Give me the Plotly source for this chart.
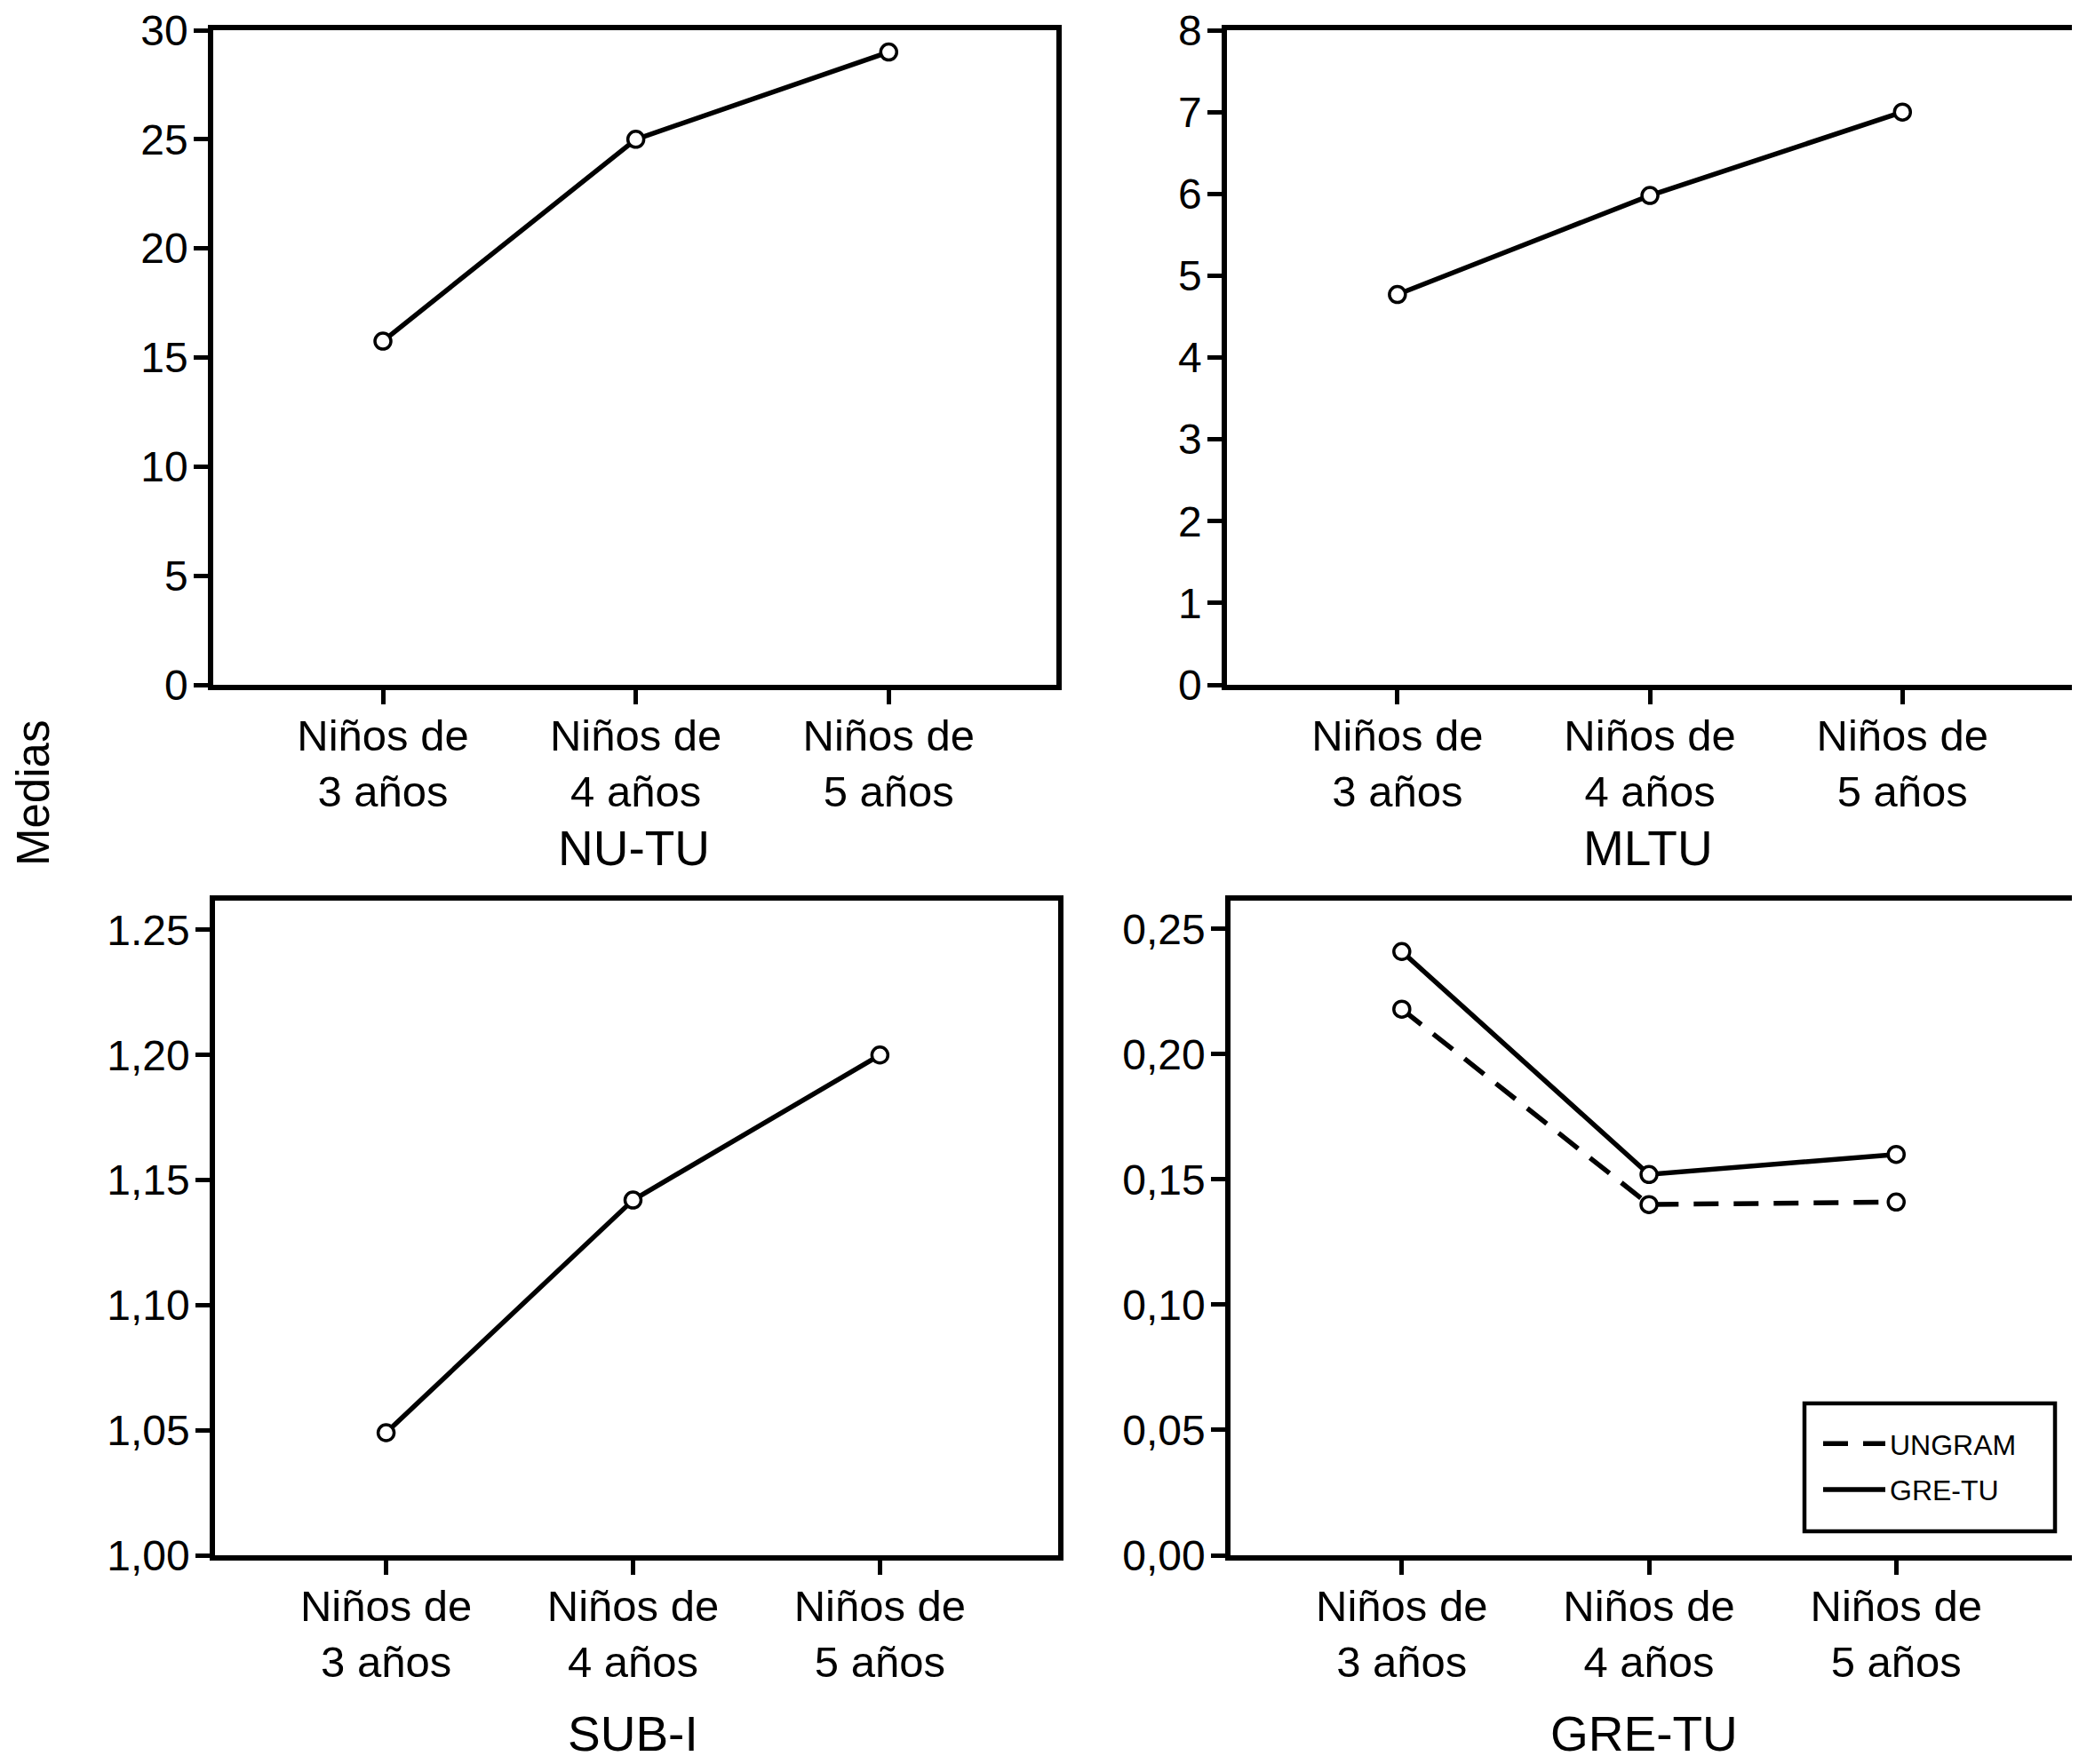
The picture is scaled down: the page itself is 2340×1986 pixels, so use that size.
import plotly.graph_objects as go

# ---------------- data ----------------
categories = ["Niños de<br>3 años", "Niños de<br>4 años", "Niños de<br>5 años"]
cat_pos = [0, 1, 2]

nu_tu = [15.75, 25.0, 29.0]
mltu = [4.77, 5.98, 7.0]
sub_i = [1.049, 1.142, 1.200]
ungram = [0.218, 0.140, 0.141]
gre_tu = [0.241, 0.152, 0.160]

panel_titles = ["NU-TU", "MLTU", "SUB-I", "GRE-TU"]
y_label = "Medias"

tl_ticks = [0, 5, 10, 15, 20, 25, 30]
tl_text = ["0", "5", "10", "15", "20", "25", "30"]
tr_ticks = [0, 1, 2, 3, 4, 5, 6, 7, 8]
tr_text = ["0", "1", "2", "3", "4", "5", "6", "7", "8"]
bl_ticks = [1.00, 1.05, 1.10, 1.15, 1.20, 1.25]
bl_text = ["1,00", "1,05", "1,10", "1,15", "1,20", "1.25"]
br_ticks = [0.00, 0.05, 0.10, 0.15, 0.20, 0.25]
br_text = ["0,00", "0,05", "0,10", "0,15", "0,20", "0,25"]

# ---------------- figure ----------------
W, H = 2340, 1986
FONT = "Liberation Sans, Arial, Helvetica, sans-serif"

fig = go.Figure()

marker = dict(symbol="circle", size=18, color="white", line=dict(color="black", width=3.5))

def add(xaxis, yaxis, y, name, dash="solid", show=False):
    # line part (legend shows only the line style)
    fig.add_trace(go.Scatter(
        x=cat_pos, y=y, mode="lines", name=name,
        xaxis=xaxis, yaxis=yaxis, showlegend=show, legendgroup=name,
        line=dict(color="black", width=5.5, dash=dash),
    ))
    # open-circle markers on top
    fig.add_trace(go.Scatter(
        x=cat_pos, y=y, mode="markers", name=name,
        xaxis=xaxis, yaxis=yaxis, showlegend=False, legendgroup=name,
        marker=marker,
    ))

add("x", "y", nu_tu, "NU-TU")
add("x2", "y2", mltu, "MLTU")
add("x3", "y3", sub_i, "SUB-I")
add("x4", "y4", ungram, "UNGRAM", dash="28px,17px", show=True)
add("x4", "y4", gre_tu, "GRE-TU", show=True)

def px_x(a, b):
    return [a / W, b / W]

def px_y(top, bottom):
    return [1 - bottom / H, 1 - top / H]

axis_common = dict(
    showline=True, linecolor="black", linewidth=5.5, mirror=True,
    ticks="outside", ticklen=16, tickwidth=5, tickcolor="black",
    showgrid=False, zeroline=False, fixedrange=True, automargin=False,
    ticklabeloverflow="allow",
)

xfont = dict(family=FONT, size=49, color="black")
yfont = dict(family=FONT, size=48, color="black")

def xaxis(dom, rng, anchor):
    return dict(axis_common, domain=dom, range=rng, anchor=anchor,
                tickvals=cat_pos, ticktext=categories, tickfont=xfont,
                ticklabelstandoff=-7)

def yaxis(dom, rng, anchor, tv, tt):
    return dict(axis_common, domain=dom, range=rng, anchor=anchor,
                tickvals=tv, ticktext=tt, tickfont=yfont,
                ticklabelstandoff=-3)

top_dom = px_y(26, 763)
bot_dom = px_y(1006, 1743)

fig.update_layout(
    width=W, height=H,
    margin=dict(l=0, r=0, t=0, b=0, pad=0),
    paper_bgcolor="white", plot_bgcolor="white",
    font=dict(family=FONT, color="black"),
    xaxis=xaxis(px_x(232, 1181), [-0.671, 2.663], "y"),
    yaxis=yaxis(top_dom, [0, 30], "x", tl_ticks, tl_text),
    xaxis2=xaxis(px_x(1373, 2324), [-0.675, 2.671], "y2"),
    yaxis2=yaxis(top_dom, [0, 8], "x2", tr_ticks, tr_text),
    xaxis3=xaxis(px_x(234, 1183), [-0.693, 2.722], "y3"),
    yaxis3=yaxis(bot_dom, [1.0, 1.2617], "x3", bl_ticks, bl_text),
    xaxis4=xaxis(px_x(1377, 2326), [-0.693, 2.718], "y4"),
    yaxis4=yaxis(bot_dom, [0.0, 0.2613], "x4", br_ticks, br_text),
    showlegend=True,
    legend=dict(
        x=2039 / W, y=1 - 1590 / H, xanchor="left", yanchor="top",
        borderwidth=0, bgcolor="rgba(0,0,0,0)",
        font=dict(family=FONT, size=32, color="black"),
        itemwidth=70, tracegroupgap=7, traceorder="grouped",
    ),
)

# legend frame (as in the reference, a larger box around the two entries)
fig.add_shape(type="rect", xref="paper", yref="paper",
              x0=2023 / W, x1=2305 / W, y0=1 - 1716 / H, y1=1 - 1572 / H,
              line=dict(color="black", width=4.5), fillcolor="rgba(0,0,0,0)", layer="above")

title_font = dict(family=FONT, size=55, color="black")
title_pos = [(705, 947), (1847, 947), (704, 1944), (1842, 1944)]
for t, (cx, cy) in zip(panel_titles, title_pos):
    fig.add_annotation(text=t, x=cx / W, y=1 - cy / H, xref="paper", yref="paper",
                       showarrow=False, font=title_font, xanchor="center", yanchor="middle")

fig.add_annotation(text=y_label, x=29 / W, y=1 - 885 / H, xref="paper", yref="paper",
                   showarrow=False, textangle=-90, font=dict(family=FONT, size=51, color="black"),
                   xanchor="center", yanchor="middle")

fig.write_html("out.html")
